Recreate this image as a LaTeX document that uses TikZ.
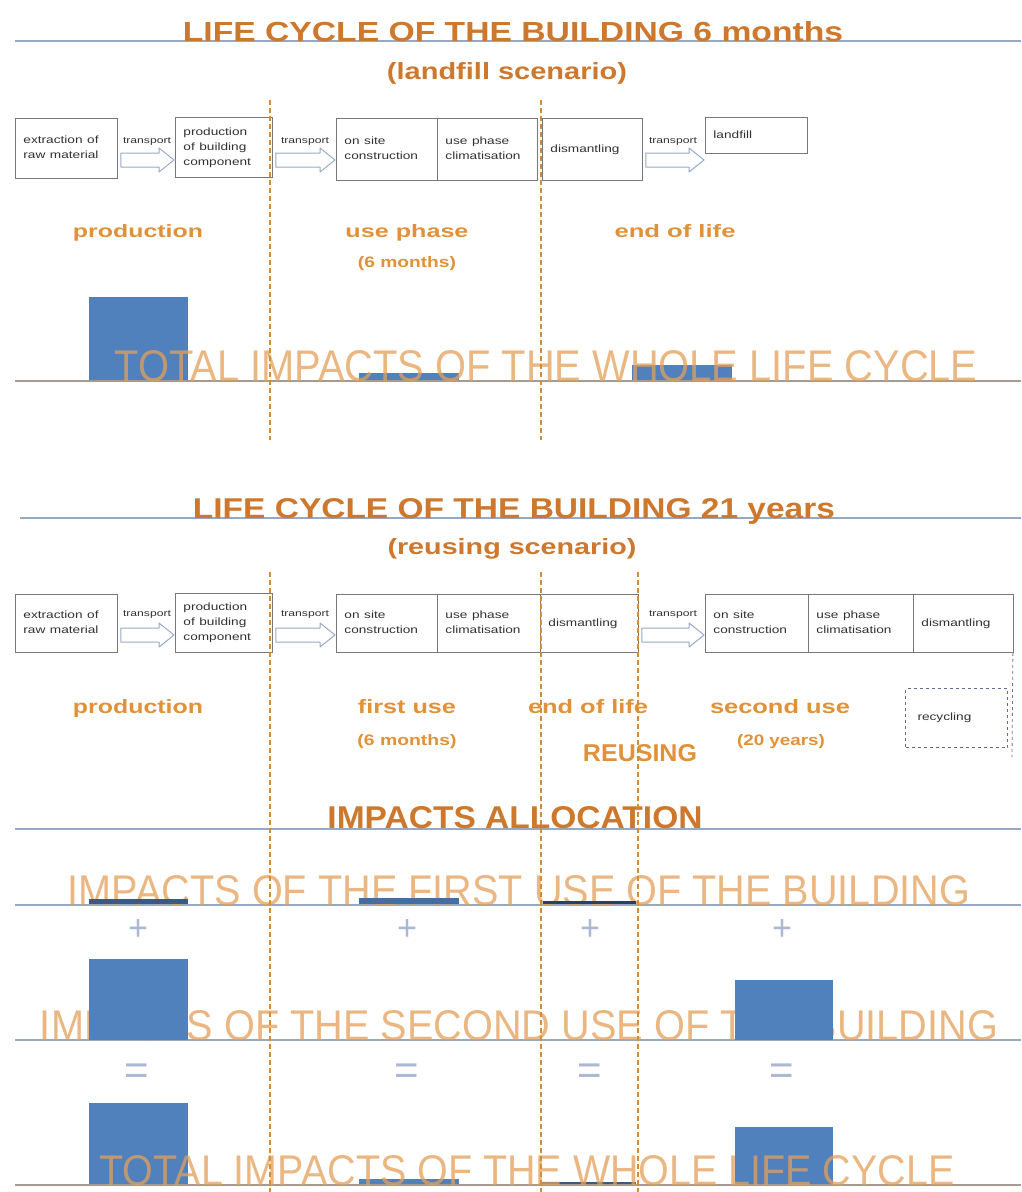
\documentclass[tikz,border=0pt]{standalone}
\usepackage{fontspec}
\setmainfont{Liberation Sans}
\usepackage{graphicx}
\usetikzlibrary{calc}
\definecolor{rulec}{RGB}{150,168,195}
\definecolor{basec}{RGB}{165,155,145}
\definecolor{dashc}{RGB}{214,140,50}
\definecolor{barc}{RGB}{80,129,189}
\definecolor{boxc}{RGB}{120,120,120}
\definecolor{txtc}{RGB}{50,50,50}
\definecolor{arrc}{RGB}{150,170,200}
\definecolor{ttlc}{RGB}{205,120,45}
\definecolor{lblc}{RGB}{225,145,55}
\definecolor{bigc}{RGB}{228,160,90}
\definecolor{opc}{RGB}{170,185,210}
\definecolor{recc}{RGB}{90,110,150}
\newcommand\fit[3]{\resizebox{#1pt}{#2pt}{#3}}
\newcommand\stagebox[6]{%
  \pgfmathsetmacro\sbw{#4-#2}\pgfmathsetmacro\sbh{#5-#3}\pgfmathsetmacro\sbt{#4-#2-16}%
  \node[stage, minimum width=\sbw pt, minimum height=\sbh pt, text width=\sbt pt] (#1) at (#2,#3)
    {\scalebox{1.3}[1]{\begin{tabular}{@{}l@{}}#6\end{tabular}}};}
\newcommand\blockarr[3]{%
  \path (#1.east |- 0,#3) coordinate (bas) (#2.west |- 0,#3) coordinate (bae);
  \draw[blockarrow] ($(bas)+(3,-7)$) -- ($(bae)+(-16,-7)$) -- ($(bae)+(-16,-12)$) -- ($(bae)+(-1,0)$)
    -- ($(bae)+(-16,12)$) -- ($(bae)+(-16,7)$) -- ($(bas)+(3,7)$) -- cycle;}
\begin{document}
\begin{tikzpicture}[x=1pt,y=-1pt,
  rule/.style={draw=rulec, line width=1.6pt},
  baserule/.style={draw=basec, line width=1.6pt},
  sepline/.style={draw=dashc, line width=1.4pt, dash pattern=on 5pt off 3pt},
  bar/.style={fill=barc, draw=none},
  stage/.style={draw=boxc, line width=0.9pt, anchor=north west, inner xsep=8pt, inner ysep=0pt, align=left, text=txtc, font=\fontsize{10.5}{15}\selectfont},
  tlabel/.style={text=txtc, anchor=base, inner sep=0pt, font=\fontsize{9}{10}\selectfont},
  blockarrow/.style={draw=arrc, line width=1pt, fill=white, line join=round},
  ttl/.style={anchor=base, inner sep=0pt, text=ttlc, font=\bfseries},
  lbl/.style={anchor=base, inner sep=0pt, text=lblc, font=\bfseries},
  big/.style={anchor=base, inner sep=0pt, text=bigc, text opacity=0.75},
  op/.style={anchor=center, inner sep=0pt, text=opc, font=\fontsize{42}{42}\selectfont},
]
\useasboundingbox (0,0) rectangle (1021,1192);
\fill[white] (0,0) rectangle (1021,1192);

% ================= SECTION 1 =================
\draw[rule] (15,41) -- (1021,41);
\node[ttl] (title1) at (513,41) {\fit{660}{20}{LIFE CYCLE OF THE BUILDING 6 months}};
\node[ttl] (sub1) at (507,79) {\fit{240}{17}{(landfill scenario)}};

\stagebox{a1}{15}{118}{117}{178}{extraction of\\raw material}
\stagebox{a2}{175}{117}{272}{177}{production\\of building\\component}
\stagebox{a3}{336}{118}{437}{180}{on site\\construction}
\stagebox{a4}{437}{118}{537}{180}{use phase\\climatisation}
\stagebox{a5}{542}{118}{642}{180}{dismantling}
\stagebox{a6}{705}{117}{807}{153}{landfill}

\blockarr{a1}{a2}{160}
\blockarr{a2}{a3}{160}
\blockarr{a5}{a6}{160}
\node[tlabel] (tr1) at (147,143) {\scalebox{1.35}[1]{transport}};
\node[tlabel] (tr2) at (305,143) {\scalebox{1.35}[1]{transport}};
\node[tlabel] (tr3) at (673,143) {\scalebox{1.35}[1]{transport}};

\node[lbl] (l1prod) at (138,237) {\fit{130}{13}{production}};
\node[lbl] (l1use) at (407,237) {\fit{123}{13}{use phase}};
\node[lbl] (l1six) at (407,267) {\fit{98}{11}{(6 months)}};
\node[lbl] (l1end) at (675,237) {\fit{121}{13}{end of life}};

\fill[bar] (89,297) rectangle (188,381);
\fill[bar] (359,373) rectangle (459,381);
\fill[bar] (632,365) rectangle (732,381);
\draw[baserule] (15,381) -- (1021,381);
\node[big] (tot1) at (546,381) {\fit{863}{31}{TOTAL IMPACTS OF THE WHOLE LIFE CYCLE}};

\draw[sepline] (270,100) -- (270,440);
\draw[sepline] (541,100) -- (541,440);

% ================= SECTION 2 =================
\draw[rule] (20,518) -- (1021,518);
\node[ttl] (title2) at (514,518) {\fit{642}{20}{LIFE CYCLE OF THE BUILDING 21 years}};
\node[ttl] (sub2) at (512,554) {\fit{249}{16}{(reusing scenario)}};

\stagebox{b1}{15}{594}{117}{652}{extraction of\\raw material}
\stagebox{b2}{175}{593}{272}{652}{production\\of building\\component}
\stagebox{b3}{336}{594}{437}{652}{on site\\construction}
\stagebox{b4}{437}{594}{540}{652}{use phase\\climatisation}
\stagebox{b5}{540}{594}{638}{652}{dismantling}
\stagebox{b6}{705}{594}{808}{652}{on site\\construction}
\stagebox{b7}{808}{594}{913}{652}{use phase\\climatisation}
\stagebox{b8}{913}{594}{1013}{652}{dismantling}

\blockarr{b1}{b2}{635}
\blockarr{b2}{b3}{635}
\blockarr{b5}{b6}{635}
\node[tlabel] (tr4) at (147,616) {\scalebox{1.35}[1]{transport}};
\node[tlabel] (tr5) at (305,616) {\scalebox{1.35}[1]{transport}};
\node[tlabel] (tr6) at (673,616) {\scalebox{1.35}[1]{transport}};

\node[draw=recc, dashed, line width=1pt, minimum width=102pt, minimum height=59pt, anchor=north west,
  inner xsep=12pt, text width=78pt, align=left, text=txtc, font=\fontsize{10.5}{15}\selectfont]
  (rec) at (905,688) {\scalebox{1.3}[1]{recycling}};
\coordinate (recend) at (1012,757);
\draw[draw=boxc, dashed, line width=0.8pt] ([xshift=-1pt]b8.south east) -- (recend);

\node[lbl] (l2prod) at (138,713) {\fit{130}{14}{production}};
\node[lbl] (l2first) at (407,713) {\fit{98}{14}{first use}};
\node[lbl] (l2six) at (407,745) {\fit{99}{11}{(6 months)}};
\node[lbl] (l2end) at (588,713) {\fit{120}{14}{end of life}};
\node[lbl] (l2second) at (780,713) {\fit{140}{14}{second use}};
\node[lbl] (l2twenty) at (781,745) {\fit{88}{11}{(20 years)}};
\node[lbl] (reuse) at (640,761) {\fit{114}{17}{REUSING}};

\draw[rule] (15,829) -- (1021,829);
\node[ttl] (alloc) at (515,828) {\fit{375}{22}{IMPACTS ALLOCATION}};

% first use row
\draw[rule] (15,905) -- (1021,905);
\node[big] (first) at (519,905) {\fit{902}{30}{IMPACTS OF THE FIRST USE OF THE BUILDING}};
\fill[barc!70!black] (89,899) rectangle (188,904);
\fill[barc!85!black] (359,898) rectangle (459,904);
\fill[barc!50!black] (543,901) rectangle (636,904);
\node[op] (p1) at (138,930) {\fit{20}{21}{+}};
\node[op] (p2) at (407,930) {\fit{20}{21}{+}};
\node[op] (p3) at (590,930) {\fit{20}{21}{+}};
\node[op] (p4) at (782,930) {\fit{20}{21}{+}};

% second use row
\draw[rule] (15,1040) -- (1021,1040);
\node[big] (second) at (519,1040) {\fit{958}{30}{IMPACTS OF THE SECOND USE OF THE BUILDING}};
\fill[bar] (89,959) rectangle (188,1040);
\fill[bar] (735,980) rectangle (833,1040);
\node[op] (e1) at (137,1074) {=};
\node[op] (e2) at (407,1074) {=};
\node[op] (e3) at (590,1074) {=};
\node[op] (e4) at (782,1074) {=};

% total row
\fill[bar] (89,1103) rectangle (188,1185);
\fill[bar] (735,1127) rectangle (833,1185);
\fill[bar] (359,1179) rectangle (459,1185);
\fill[barc!70!black] (541,1182) rectangle (636,1185);
\draw[baserule] (15,1185) -- (1021,1185);
\node[big] (tot2) at (527,1185) {\fit{855}{30}{TOTAL IMPACTS OF THE WHOLE LIFE CYCLE}};

\draw[sepline] (270,572) -- (270,1192);
\draw[sepline] (541,572) -- (541,1192);
\draw[sepline] (638,572) -- (638,1192);
\end{tikzpicture}
\end{document}
